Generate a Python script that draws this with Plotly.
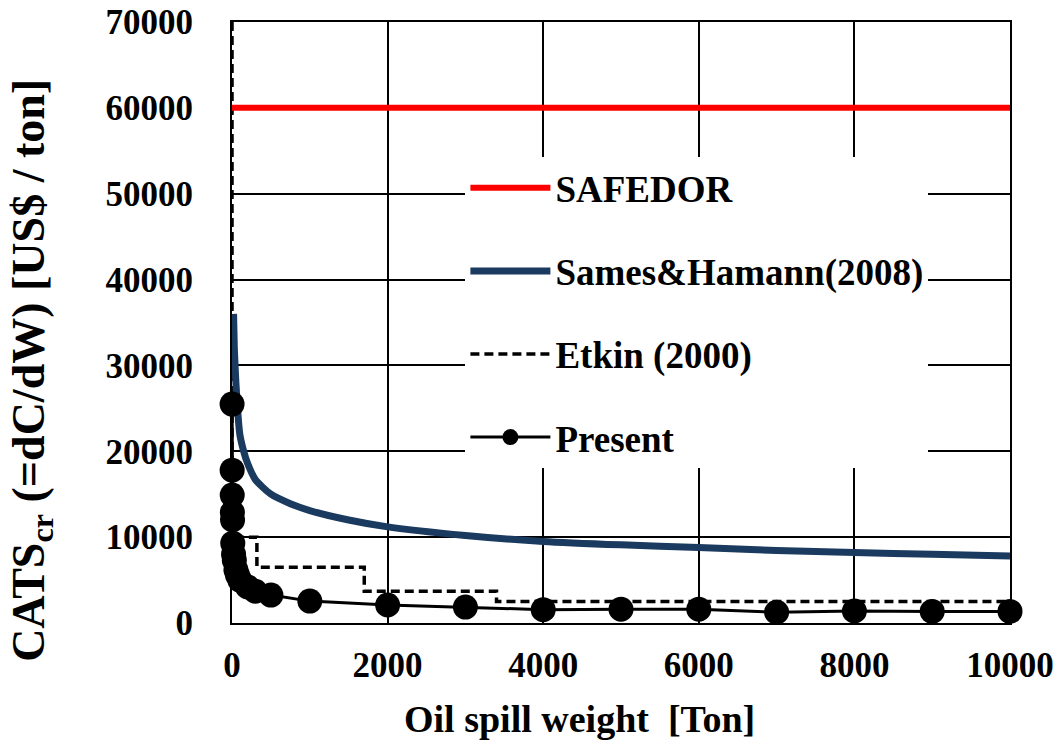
import plotly.graph_objects as go

# ---- data ----
safedor_x = [0, 10000]
safedor_y = [60000, 60000]

sames_x = [20, 30, 50, 75, 100, 150, 200, 300, 500, 750, 1000, 1500, 2000, 3000,
           4000, 5000, 6000, 7000, 8000, 9000, 10000]
sames_y = [36000, 32000, 28000, 24500, 22000, 20000, 18600, 16700, 15000, 13900,
           13100, 12000, 11200, 10200, 9500, 9100, 8800, 8450, 8200, 8000, 7800]

etkin_x = [0, 0, 320, 1700, 3400, 10000]
etkin_y = [70000, 10000, 6500, 3700, 2500, 2500]

present_x = [1, 2, 3, 5, 7, 10, 20, 30, 50, 70, 100, 200, 300, 500,
             1000, 2000, 3000, 4000, 5000, 6000, 7000, 8000, 9000, 10000]
present_y = [25500, 17800, 14900, 12900, 12000, 9300, 8000, 7300, 6200, 5600, 5000,
             4200, 3700, 3250, 2550, 2100, 1850, 1550, 1600, 1600, 1250, 1400, 1350, 1350]

x_ticks = [0, 2000, 4000, 6000, 8000, 10000]
y_ticks = [0, 10000, 20000, 30000, 40000, 50000, 60000, 70000]

FONT = "Liberation Serif"
NAVY = "#1B3A5F"
TICKFONT = dict(family=FONT, size=35, color="black", weight="bold")

fig = go.Figure()

fig.add_trace(go.Scatter(
    x=etkin_x, y=etkin_y, mode="lines", name="Etkin (2000)", line_shape="hv",
    line=dict(color="black", width=3.5, dash="9px,5px"),
    legendgroup="c", legendrank=3))
fig.add_trace(go.Scatter(
    x=safedor_x, y=safedor_y, mode="lines", name="SAFEDOR",
    line=dict(color="#FF0000", width=6), legendgroup="a", legendrank=1))
fig.add_trace(go.Scatter(
    x=sames_x, y=sames_y, mode="lines", name="Sames&Hamann(2008)",
    line=dict(color=NAVY, width=7, shape="spline", smoothing=0.6),
    legendgroup="b", legendrank=2))
fig.add_trace(go.Scatter(
    x=present_x, y=present_y, mode="lines+markers", name="Present",
    line=dict(color="black", width=3),
    marker=dict(color="black", size=25, symbol="circle"),
    cliponaxis=False, legendgroup="d", legendrank=4))

axis_common = dict(
    showline=True, linecolor="black", linewidth=2, mirror=True,
    showgrid=True, gridcolor="black", gridwidth=1.5,
    zeroline=False, ticks="", automargin=False,
    tickfont=TICKFONT,
)

fig.update_xaxes(range=[0, 10000], tickvals=x_ticks,
                 ticktext=[str(v) for v in x_ticks],
                 ticklabelstandoff=10, **axis_common)
fig.update_yaxes(range=[0, 70000], tickvals=y_ticks,
                 ticktext=[str(v) for v in y_ticks],
                 ticklabelstandoff=30, **axis_common)

fig.update_layout(
    width=1059, height=741,
    margin=dict(l=232, r=49, t=22, b=118, autoexpand=False),
    paper_bgcolor="white", plot_bgcolor="white",
    font=dict(family=FONT, color="black"),
    showlegend=True,
    legend=dict(
        x=0.30, y=0.775, xanchor="left", yanchor="top",
        bgcolor="white", borderwidth=0,
        font=dict(family=FONT, size=37, color="black", weight="bold"),
        itemwidth=80, traceorder="grouped", tracegroupgap=32,
        itemsizing="trace", entrywidth=440,
    ),
    annotations=[
        dict(text="<b>Oil spill weight  [Ton]</b>", xref="paper", yref="paper",
             x=0.447, y=-0.16, xanchor="center", yanchor="middle",
             showarrow=False, font=dict(family=FONT, size=38, color="black")),
        dict(text="<b>CATS<sub>cr</sub> (=dC/dW) [US$ / ton]</b>", xref="paper", yref="paper",
             x=-0.258, y=0.42, xanchor="center", yanchor="middle", textangle=-90,
             showarrow=False, font=dict(family=FONT, size=46, color="black")),
    ],
)

fig.write_html("out.html", config={"displayModeBar": False},
               post_script="document.body.style.margin='0px';document.body.style.overflow='hidden';")
